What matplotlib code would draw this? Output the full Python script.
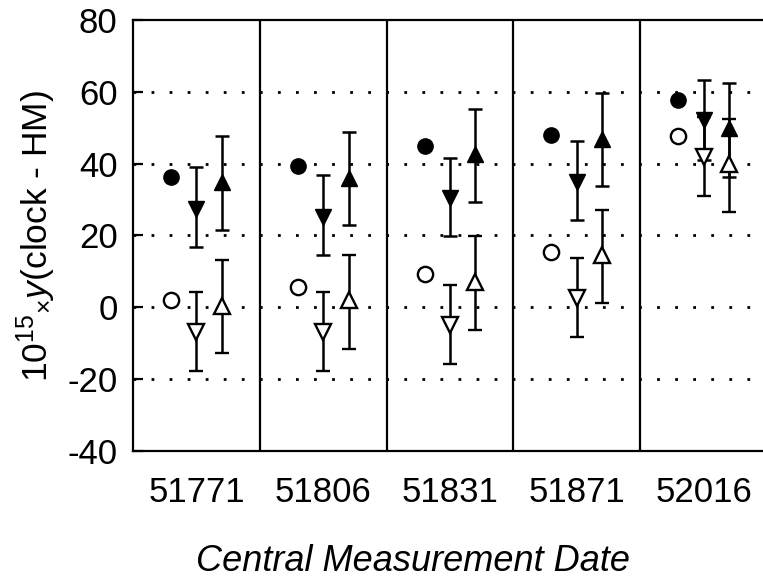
import matplotlib
matplotlib.use('Agg')
import matplotlib.pyplot as plt
import numpy as np

plt.rcParams['font.family'] = ['Liberation Sans', 'DejaVu Sans']
plt.rcParams['mathtext.fontset'] = 'custom'
plt.rcParams['mathtext.rm'] = 'Liberation Sans'
plt.rcParams['mathtext.it'] = 'Liberation Sans:italic'
plt.rcParams['axes.unicode_minus'] = False

# data
dates = ['51771', '51806', '51831', '51871', '52016']

filled_circle = [36.3, 39.4, 44.8, 47.9, 57.7]
open_circle = [1.9, 5.7, 9.4, 15.4, 47.7]

filled_down = [27.5, 25.2, 30.3, 34.9, 52.1]
filled_down_lo = [16.8, 14.7, 19.8, 24.2, 41.0]
filled_down_hi = [39.0, 36.8, 41.7, 46.2, 63.2]

open_down = [-6.9, -6.9, -5.0, 2.6, 41.9]
open_down_lo = [-17.7, -17.7, -15.7, -8.3, 30.9]
open_down_hi = [4.3, 4.3, 6.1, 13.8, 53.0]

filled_up = [34.9, 36.0, 42.8, 47.0, 49.8]
filled_up_lo = [21.6, 23.0, 29.3, 33.7, 36.3]
filled_up_hi = [47.6, 48.8, 55.3, 59.7, 62.5]

open_up = [0.5, 2.1, 7.1, 14.5, 39.8]
open_up_lo = [-12.7, -11.5, -6.4, 1.2, 26.6]
open_up_hi = [13.3, 14.7, 19.8, 27.2, 52.3]

fig = plt.figure(figsize=(7.63, 5.81), dpi=100)
ax = fig.add_axes([0.1743, 0.2238, 0.831, 0.7418])

x = np.arange(1, len(dates) + 1)


def err(v, lo, hi):
    v = np.array(v)
    return [v - np.array(lo), np.array(hi) - v]


# dotted grid lines
for g in [60, 40, 20, 0, -20]:
    ax.axhline(g, color='k', lw=2.0, ls=(0, (1, 5.5)), zorder=1)

# panel dividers
for d in x[:-1] + 0.5:
    ax.axvline(d, color='k', lw=1.6, zorder=2)

ms = 11
eb = dict(ls='none', ecolor='k', elinewidth=1.8, capsize=5, capthick=1.8, zorder=3)

ax.plot(x - 0.2, filled_circle, 'o', color='k', ms=ms, zorder=4)
ax.plot(x - 0.2, open_circle, 'o', mfc='white', mec='k', mew=1.7, ms=ms, zorder=4)

ax.errorbar(x, filled_down, yerr=err(filled_down, filled_down_lo, filled_down_hi),
            fmt='v', mfc='k', mec='k', ms=ms + 1, **eb)
ax.errorbar(x, open_down, yerr=err(open_down, open_down_lo, open_down_hi),
            fmt='v', mfc='white', mec='k', mew=1.7, ms=ms + 1, **eb)
ax.errorbar(x + 0.2, filled_up, yerr=err(filled_up, filled_up_lo, filled_up_hi),
            fmt='^', mfc='k', mec='k', ms=ms + 1, **eb)
ax.errorbar(x + 0.2, open_up, yerr=err(open_up, open_up_lo, open_up_hi),
            fmt='^', mfc='white', mec='k', mew=1.7, ms=ms + 1, **eb)

ax.set_xlim(0.5, len(dates) + 0.5)
ax.set_ylim(-40, 80)
ax.set_yticks([-40, -20, 0, 20, 40, 60, 80])
ax.set_xticks(x)
ax.set_xticklabels(dates)
ax.tick_params(axis='y', direction='in', length=7, width=1.6, labelsize=25, pad=11)
ax.tick_params(axis='x', length=0, labelsize=25, pad=18)
for s in ax.spines.values():
    s.set_linewidth(1.6)

ax.set_ylabel(r'10$^{15}$$_{\times}$$y$(clock - HM)', fontsize=25.5, labelpad=7)
ax.set_xlabel('Central Measurement Date', fontsize=26, style='italic', labelpad=27)
ax.xaxis.set_label_coords(0.442, -0.215)

fig.savefig('out.png', dpi=100)
